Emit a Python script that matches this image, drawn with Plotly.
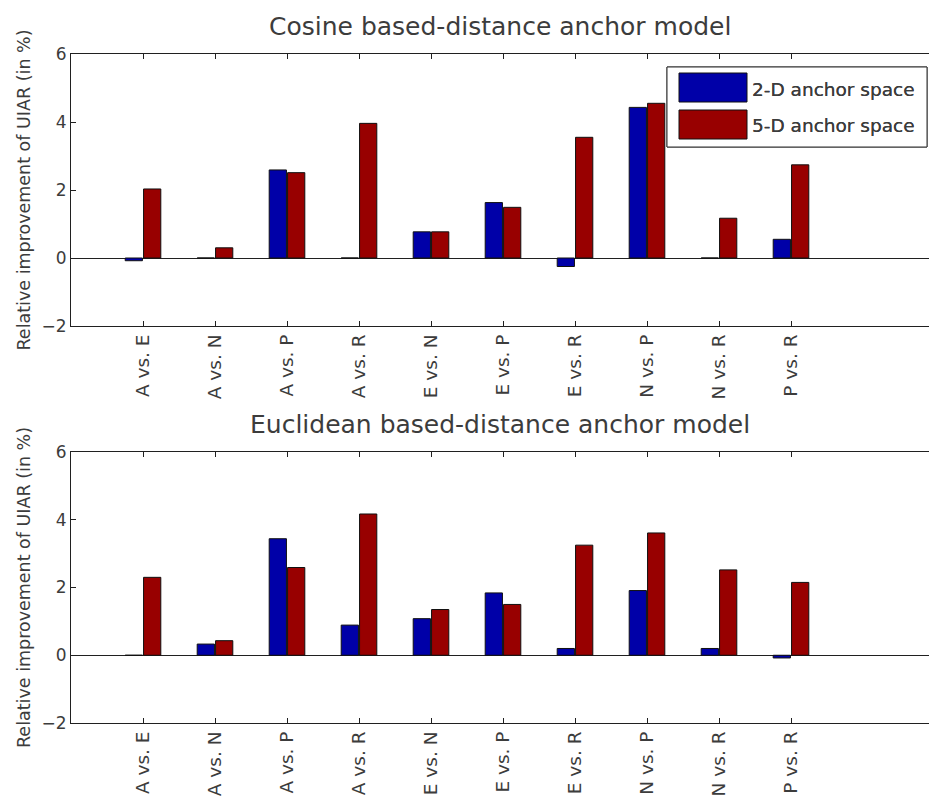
import plotly.graph_objects as go
from plotly.subplots import make_subplots

# Pairwise comparisons of the emotion classes
pairs = ["A vs. E", "A vs. N", "A vs. P", "A vs. R", "E vs. N",
         "E vs. P", "E vs. R", "N vs. P", "N vs. R", "P vs. R"]
positions = list(range(1, len(pairs) + 1))

# Relative improvement of UIAR (%) - cosine based-distance anchor model
cosine_2d = [-0.08, 0.0, 2.59, 0.0, 0.77, 1.63, -0.25, 4.43, 0.0, 0.55]
cosine_5d = [2.03, 0.30, 2.51, 3.96, 0.77, 1.49, 3.55, 4.55, 1.17, 2.74]

# Relative improvement of UIAR (%) - Euclidean based-distance anchor model
eucl_2d = [0.0, 0.33, 3.44, 0.89, 1.08, 1.84, 0.20, 1.91, 0.20, -0.08]
eucl_5d = [2.30, 0.43, 2.59, 4.17, 1.35, 1.50, 3.25, 3.61, 2.52, 2.15]

titles = ["Cosine based-distance anchor model",
          "Euclidean based-distance anchor model"]
series_names = ["2-D anchor space", "5-D anchor space"]
y_ticks = [-2, 0, 2, 4, 6]

BLUE = "#0000a8"
RED = "#980000"
FONT = "DejaVu Sans, Liberation Sans, sans-serif"
TEXT = "#3c3c3c"

W, H = 929, 799
ML, MR, MT, MB = 71, 0, 54, 76
plot_h = H - MT - MB

fig = make_subplots(rows=2, cols=1, vertical_spacing=0.0)

panels = [(cosine_2d, cosine_5d), (eucl_2d, eucl_5d)]
for row, (s2, s5) in enumerate(panels, start=1):
    for vals, name, col in zip((s2, s5), series_names, (BLUE, RED)):
        fig.add_trace(
            go.Bar(x=positions, y=vals, name=name, marker_color=col,
                   marker_line_color="#101010", marker_line_width=1,
                   showlegend=False),
            row=row, col=1)

# Panel vertical extents in pixels
top_px = [(54, 326), (452, 723)]
domains = []
for t, b in top_px:
    domains.append([(H - MB - b) / plot_h, (H - MB - t) / plot_h])

axis_common = dict(
    showline=True, linecolor="#202020", linewidth=1.2,
    ticks="inside", ticklen=5, tickcolor="#202020",
    showgrid=False,
)
for row in (1, 2):
    sfx = "" if row == 1 else "2"
    fig.layout["xaxis" + sfx].update(
        range=[0, (W - ML - MR) / 72.0], tickmode="array",
        tickvals=positions, ticktext=pairs, tickangle=-90,
        tickfont=dict(family=FONT, size=18.5, color=TEXT),
        mirror="ticks", zeroline=False, **axis_common)
    fig.layout["yaxis" + sfx].update(
        range=[-2, 6], tickmode="array", tickvals=y_ticks,
        tickfont=dict(family=FONT, size=17, color=TEXT),
        domain=domains[row - 1], zeroline=True, zerolinecolor="#202020",
        zerolinewidth=1.2, title=dict(
            text="Relative improvement of UIAR (in %)",
            font=dict(family=FONT, size=17.5, color=TEXT), standoff=6),
        **axis_common)

annotations = []
shapes = []
for row, title in enumerate(titles, start=1):
    sfx = "" if row == 1 else "2"
    annotations.append(dict(
        text=title, xref="paper", yref="y" + sfx + " domain",
        x=(500 - ML) / (W - ML - MR), y=1.0, yshift=11,
        xanchor="center", yanchor="bottom", showarrow=False,
        font=dict(family=FONT, size=25, color=TEXT)))

    # Legend box drawn in axis-domain coordinates
    t, b = top_px[row - 1]
    ph = b - t
    def xd(px):
        return (px - ML) / (W - ML - MR)
    def yd(px):
        return 1 - (px - t) / ph
    xr, yr = "x" + sfx + " domain", "y" + sfx + " domain"
    shapes.append(dict(type="rect", xref=xr, yref=yr,
                       x0=xd(667), x1=xd(927), y0=yd(147), y1=yd(67),
                       line=dict(color="#303030", width=1),
                       fillcolor="white", layer="above"))
    for i, (name, col) in enumerate(zip(series_names, (BLUE, RED))):
        y0 = 73 + i * 37
        shapes.append(dict(type="rect", xref=xr, yref=yr,
                           x0=xd(679), x1=xd(747), y0=yd(y0 + 29), y1=yd(y0),
                           line=dict(color="#101010", width=1),
                           fillcolor=col, layer="above"))
        annotations.append(dict(
            text=name, xref=xr, yref=yr, x=xd(750), y=yd(y0 + 16),
            xanchor="left", yanchor="middle", showarrow=False,
            font=dict(family=FONT, size=18.5, color=TEXT)))

fig.update_layout(
    width=W, height=H,
    margin=dict(l=ML, r=MR, t=MT, b=MB),
    paper_bgcolor="white", plot_bgcolor="white",
    barmode="group", bargap=0.49, bargroupgap=0.06,
    annotations=annotations, shapes=shapes,
    font=dict(family=FONT, color=TEXT),
)

fig.write_html("out.html")
